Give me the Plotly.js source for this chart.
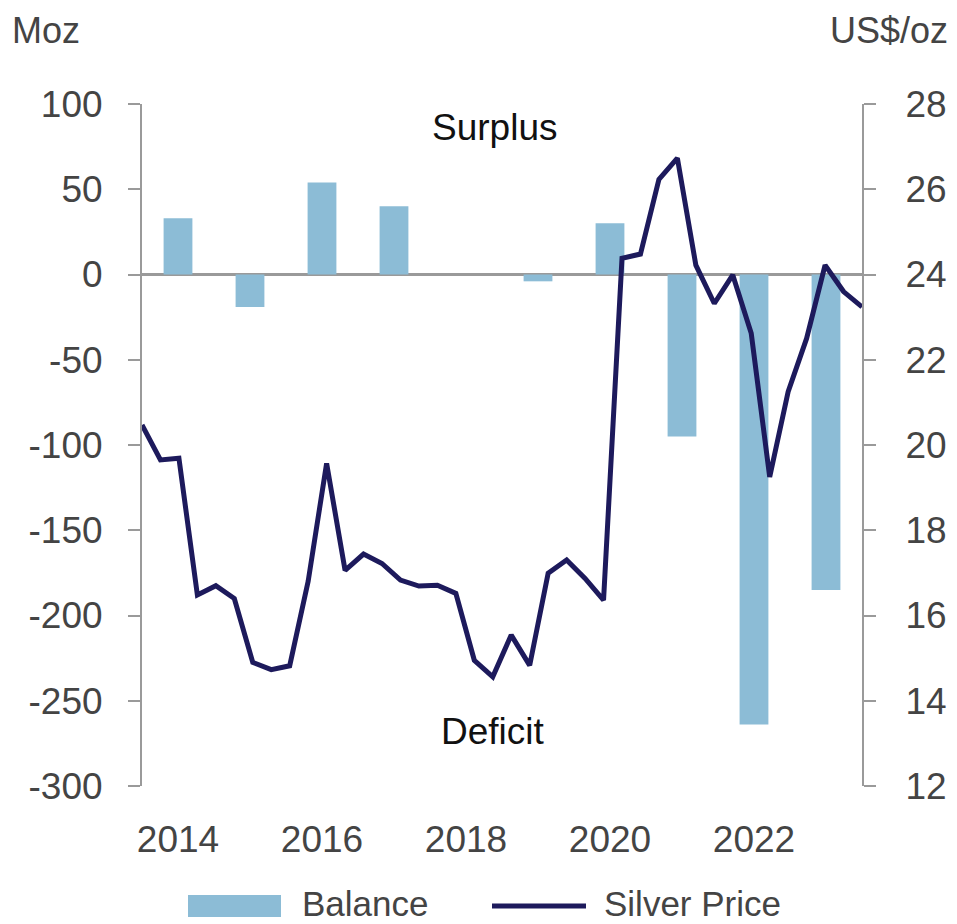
<!DOCTYPE html>
<html>
<head>
<meta charset="utf-8">
<script src="https://cdn.plot.ly/plotly-3.0.1.min.js"></script>
<style>html,body{margin:0;padding:0;background:#fff;}#chart{width:957px;height:924px;}</style>
</head>
<body>
<div id="chart"></div>
<script>
// Annual market balance (Moz)
const years = [2014, 2015, 2016, 2017, 2018, 2019, 2020, 2021, 2022, 2023];
const balance = [33, -19, 54, 40, 0, -4, 30, -95, -264, -185];

// Quarterly average silver price (US$/oz)
const quarters = [
  "2014Q1","2014Q2","2014Q3","2014Q4",
  "2015Q1","2015Q2","2015Q3","2015Q4",
  "2016Q1","2016Q2","2016Q3","2016Q4",
  "2017Q1","2017Q2","2017Q3","2017Q4",
  "2018Q1","2018Q2","2018Q3","2018Q4",
  "2019Q1","2019Q2","2019Q3","2019Q4",
  "2020Q1","2020Q2","2020Q3","2020Q4",
  "2021Q1","2021Q2","2021Q3","2021Q4",
  "2022Q1","2022Q2","2022Q3","2022Q4",
  "2023Q1","2023Q2","2023Q3","2023Q4"
];
const silverPrice = [
  20.47, 19.65, 19.69, 16.48,
  16.70, 16.40, 14.90, 14.73,
  14.82, 16.80, 19.57, 17.06,
  17.44, 17.22, 16.83, 16.69,
  16.71, 16.52, 14.95, 14.56,
  15.54, 14.83, 16.99, 17.30,
  16.87, 16.36, 24.38, 24.48,
  26.23, 26.73, 24.22, 23.32,
  23.99, 22.62, 19.25, 21.25,
  22.50, 24.22, 23.60, 23.24
];

const xTickVals = [2014, 2016, 2018, 2020, 2022];
const leftTicks = [100, 50, 0, -50, -100, -150, -200, -250, -300];
const rightTicks = [28, 26, 24, 22, 20, 18, 16, 14, 12];

const barColor = '#8cbcd6';
const lineColor = '#1d1a5c';
const axisGray = '#9a9a9a';
const textGray = '#444444';
const FONT = 'Liberation Sans, Arial, sans-serif';

const traces = [
  {
    type: 'bar', name: 'Balance', x: years, y: balance,
    xaxis: 'x', yaxis: 'y',
    marker: {color: barColor}, width: 0.4, showlegend: false
  },
  {
    type: 'scatter', mode: 'lines', name: 'Silver Price',
    x: quarters, y: silverPrice, xaxis: 'x2', yaxis: 'y2',
    line: {color: lineColor, width: 5}, showlegend: false
  }
];

const layout = {
  width: 957, height: 924,
  margin: {l: 142, r: 95, t: 104, b: 138},
  paper_bgcolor: '#ffffff', plot_bgcolor: '#ffffff',
  font: {family: FONT, size: 37, color: textGray},
  showlegend: false,
  xaxis: {
    range: [2013.5, 2023.5], tickvals: xTickVals, ticktext: xTickVals.map(String),
    showline: false, showgrid: false, zeroline: false, ticks: '',
    ticklabelstandoff: 28, fixedrange: true,
    tickfont: {family: FONT, size: 37, color: textGray}
  },
  xaxis2: {
    type: 'category', overlaying: 'x', range: [0, quarters.length - 1],
    visible: false, fixedrange: true
  },
  yaxis: {
    range: [-300, 100], tickvals: leftTicks, ticktext: leftTicks.map(String),
    showgrid: false, showline: true, linecolor: axisGray, linewidth: 2,
    ticks: 'outside', ticklen: 12, tickwidth: 2, tickcolor: axisGray,
    zeroline: true, zerolinecolor: axisGray, zerolinewidth: 2.5,
    ticklabelstandoff: 18,
    tickfont: {family: FONT, size: 37, color: textGray}
  },
  yaxis2: {
    range: [12, 28], tickvals: rightTicks, ticktext: rightTicks.map(String),
    overlaying: 'y', side: 'right', anchor: 'x',
    showgrid: false, showline: true, linecolor: axisGray, linewidth: 2,
    ticks: 'outside', ticklen: 12, tickwidth: 2, tickcolor: axisGray,
    zeroline: false, ticklabelstandoff: 22,
    tickfont: {family: FONT, size: 37, color: textGray}
  },
  annotations: [
    {text: 'Moz', xref: 'paper', yref: 'paper', x: 0, y: 1, xshift: -132, yshift: 74,
     xanchor: 'left', yanchor: 'middle', showarrow: false,
     font: {family: FONT, size: 36, color: textGray}},
    {text: 'US$/oz', xref: 'paper', yref: 'paper', x: 1, y: 1, xshift: 88, yshift: 74,
     xanchor: 'right', yanchor: 'middle', showarrow: false,
     font: {family: FONT, size: 36, color: textGray}},
    {text: 'Surplus', xref: 'paper', yref: 'y', x: 0.49, y: 86,
     xanchor: 'center', yanchor: 'middle', showarrow: false,
     font: {family: FONT, size: 37, color: '#111111'}},
    {text: 'Deficit', xref: 'paper', yref: 'y', x: 0.487, y: -268,
     xanchor: 'center', yanchor: 'middle', showarrow: false,
     font: {family: FONT, size: 37, color: '#111111'}},
    {text: 'Balance', xref: 'paper', yref: 'paper', x: (300 - 142) / 720, y: 0, yshift: -117,
     xanchor: 'left', yanchor: 'middle', showarrow: false,
     font: {family: FONT, size: 35, color: textGray}},
    {text: 'Silver Price', xref: 'paper', yref: 'paper', x: (602 - 142) / 720, y: 0, yshift: -117,
     xanchor: 'left', yanchor: 'middle', showarrow: false,
     font: {family: FONT, size: 35, color: textGray}}
  ],
  shapes: [
    {type: 'rect', xref: 'paper', yref: 'paper',
     x0: (188 - 142) / 720, x1: (281 - 142) / 720,
     y0: -(895 - 786) / 682, y1: -(917 - 786) / 682,
     fillcolor: barColor, line: {width: 0}},
    {type: 'line', xref: 'paper', yref: 'paper',
     x0: (492 - 142) / 720, x1: (586 - 142) / 720,
     y0: -(906 - 786) / 682, y1: -(906 - 786) / 682,
     line: {color: lineColor, width: 5}}
  ]
};

Plotly.newPlot('chart', traces, layout, {displayModeBar: false, staticPlot: true});
</script>
</body>
</html>
